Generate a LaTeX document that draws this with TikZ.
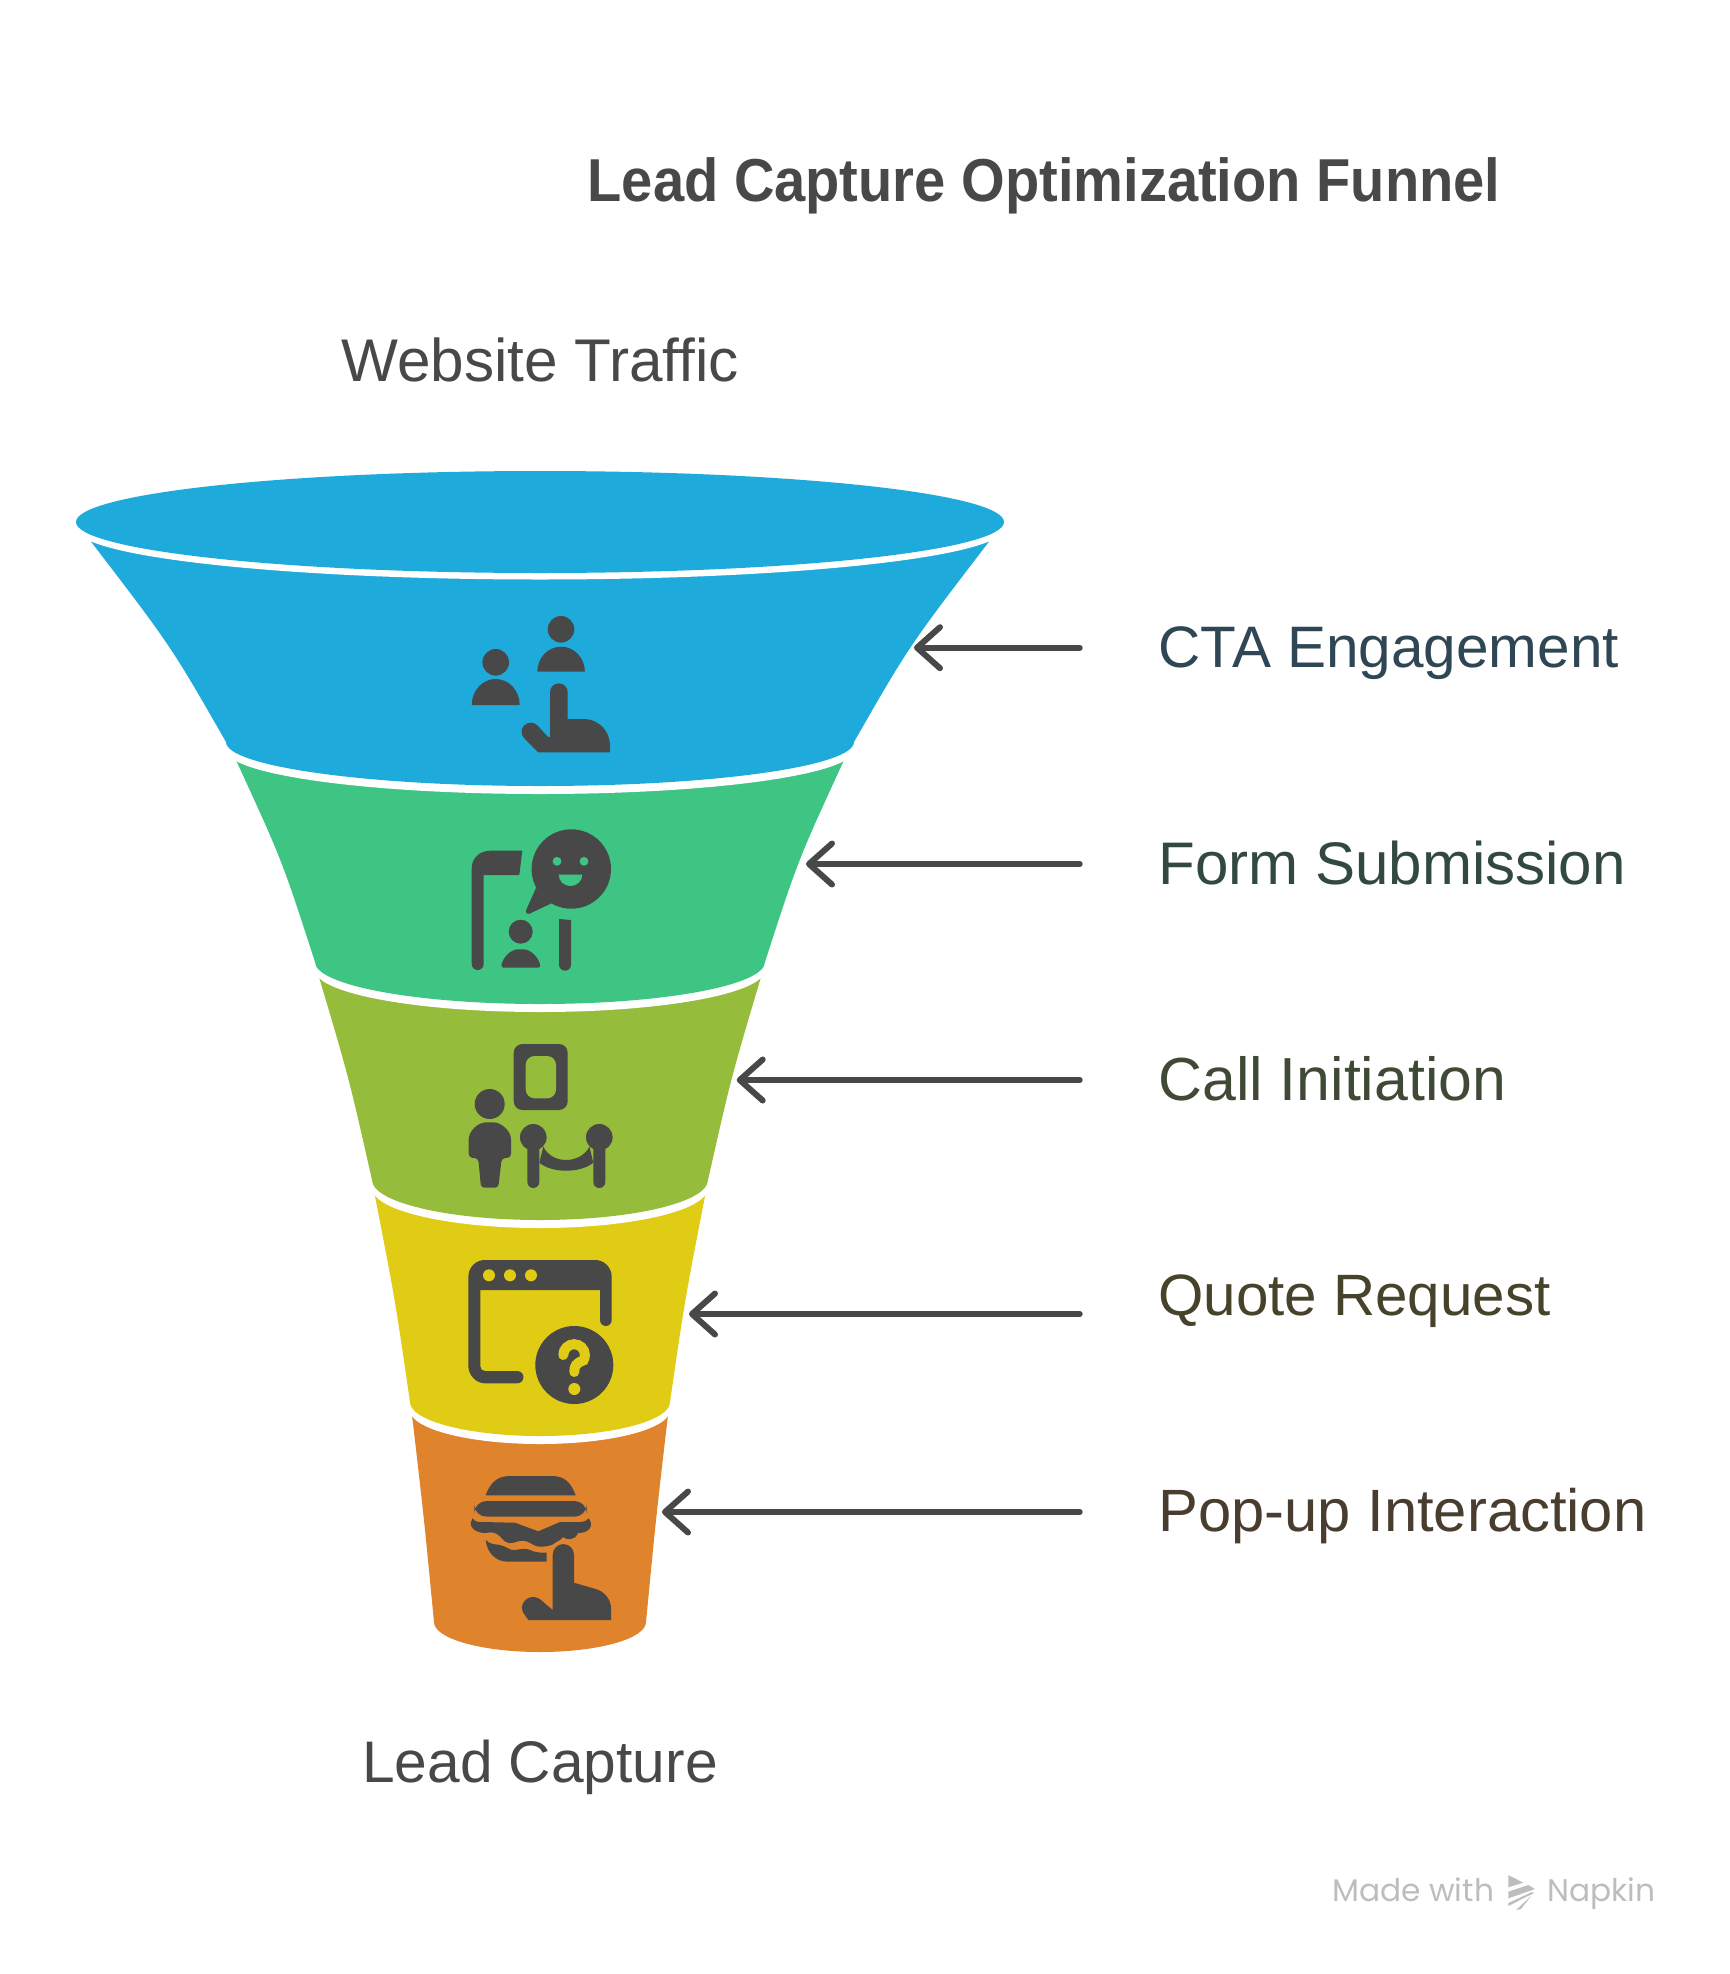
\documentclass[tikz,border=0pt]{standalone}
\usepackage{fontspec}
\setmainfont{Liberation Sans}
\newfontfamily\titlefont{Liberation Sans}[FakeStretch=0.925]
\newfontfamily\watermarkfont{Poppins}
\usetikzlibrary{arrows.meta}
\definecolor{bandblue}{HTML}{1FAADC}
\definecolor{bandgreen}{HTML}{3EC583}
\definecolor{bandolive}{HTML}{95BC3A}
\definecolor{bandyellow}{HTML}{E0CB15}
\definecolor{bandorange}{HTML}{DF832D}
\definecolor{inkgrey}{HTML}{484848}
\definecolor{watermarkgrey}{HTML}{BDBDBD}
\tikzset{
    iconfill/.style={fill=inkgrey},
    leadarrow/.style={inkgrey,line width=0.12cm,line cap=round,-{Straight Barb[length=0.46cm,width=0.82cm,round]}},
    sidelabel/.style={anchor=base west,font=\fontsize{#1}{36}\selectfont,inner sep=0pt},
    endlabel/.style={anchor=base,text=inkgrey,font=\fontsize{#1}{36}\selectfont,inner sep=0pt},
    watermark/.style={anchor=base west,inner sep=0pt,text=watermarkgrey,font=\watermarkfont\fontsize{17.8}{22}\selectfont}
}
\newcommand{\funnelband}[8]{
    \fill[white] (540-#6,-#7-8) arc[start angle=180,end angle=360,x radius=#6,y radius=#8] -- cycle;
    \fill[#1] (540-#2,-#3) .. controls (540-#4,-#5) .. (540-#6,-#7)
        arc[start angle=180,end angle=360,x radius=#6,y radius=#8]
        .. controls (540+#4,-#5) .. (540+#2,-#3) -- cycle;
}
\begin{document}
\begin{tikzpicture}[x=0.02cm,y=0.02cm]
    \useasboundingbox (0,0) rectangle (1729,-1974);
    \funnelband{bandorange}{128}{1415}{116}{1518}{106}{1622}{30}
    \funnelband{bandyellow}{165}{1196}{145}{1299}{130}{1402}{34}
    \funnelband{bandolive}{221}{977}{191}{1078}{168}{1180}{40}
    \funnelband{bandgreen}{305}{758}{258}{860}{225}{962}{42}
    \funnelband{bandblue}{451}{539}{369}{646}{314}{742}{44}
    \fill[white] (76,-528.5) arc[start angle=180,end angle=360,x radius=464,y radius=51] -- cycle;
    \fill[bandblue] (540,-522) ellipse[x radius=464,y radius=51];

    \fill[iconfill] (495.7,-662.3) circle[radius=13.3];
    \fill[iconfill] (471.7,-705) arc[start angle=180,end angle=0,x radius=24,y radius=26] -- cycle;
    \fill[iconfill] (561,-629.3) circle[radius=13.3];
    \fill[iconfill] (537.3,-671.7) arc[start angle=180,end angle=0,x radius=23.8,y radius=25] -- cycle;
    \fill[iconfill] (550,-737) -- (550,-692.2) arc[start angle=180,end angle=0,radius=8.85] -- (567.7,-719) -- (583,-719)
        .. controls (600,-719) and (610,-732) .. (610,-746) -- (610,-752.3) -- (538.3,-752.3) -- (525,-739)
        .. controls (515,-729) and (529,-717) .. (537.5,-725.5) -- (548.3,-737.3) -- cycle;

    \fill[iconfill] (471.7,-964) -- (471.7,-868) .. controls (471.7,-858) and (480,-850.7) .. (490,-850.7) -- (522.3,-850.7)
        -- (519.3,-875) -- (483.7,-875) -- (483.7,-964) arc[start angle=0,end angle=-180,radius=6] -- cycle;
    \fill[iconfill] (571.3,-869) circle[radius=39.7];
    \fill[iconfill] (536,-888) -- (526.2,-910) .. controls (525.5,-913) and (527,-914.5) .. (530,-913.5) -- (552,-903) -- cycle;
    \fill[bandgreen] (557,-861.3) circle[radius=4.4];
    \fill[bandgreen] (584,-861.3) circle[radius=4.4];
    \fill[bandgreen] (558.7,-874.7) arc[start angle=180,end angle=360,x radius=11.8,y radius=11.3] -- cycle;
    \fill[iconfill] (520.7,-931.7) circle[radius=12];
    \fill[iconfill,rounded corners=1.5] (501,-967.7) .. controls (503,-957) and (511,-949.3) .. (520.7,-949.3)
        .. controls (530.5,-949.3) and (538.5,-957) .. (540.7,-967.7) -- cycle;
    \fill[iconfill] (559,-964.7) -- (559,-919) -- (571,-920) -- (571,-964.7) arc[start angle=0,end angle=-180,radius=6] -- cycle;

    \fill[iconfill,rounded corners=5] (513.7,-1044) rectangle (567.7,-1110);
    \fill[bandolive,rounded corners=5] (525.7,-1056) rectangle (556,-1098.3);
    \fill[iconfill] (489.7,-1104) circle[radius=15];
    \fill[iconfill,rounded corners=2] (468.7,-1157.5) -- (468.7,-1143) .. controls (468.7,-1131) and (478,-1122.3) .. (489.8,-1122.3)
        .. controls (501.5,-1122.3) and (511,-1131) .. (511,-1143) -- (511,-1157.5) -- (501.7,-1158.3) -- (498.3,-1187.7)
        -- (481,-1187.7) -- (478.3,-1158.3) -- cycle;
    \fill[iconfill] (533.3,-1137.3) circle[radius=13.3];
    \fill[iconfill] (599.3,-1137.3) circle[radius=13.3];
    \fill[iconfill] (527.3,-1140) -- (527.3,-1182) arc[start angle=180,end angle=360,radius=6] -- (539.3,-1140) -- cycle;
    \fill[iconfill] (593.3,-1140) -- (593.3,-1182) arc[start angle=180,end angle=360,radius=6] -- (605.3,-1140) -- cycle;
    \fill[iconfill] (543.3,-1146.7) .. controls (552,-1164.4) and (580,-1164.4) .. (589.5,-1146.7) -- (593.3,-1162.7)
        .. controls (580,-1173.4) and (552,-1173.4) .. (539.3,-1162.7) -- cycle;

    \fill[iconfill] (468.3,-1360) -- (468.3,-1277) .. controls (468.3,-1267) and (476,-1260) .. (485,-1260) -- (595,-1260)
        .. controls (604,-1260) and (611.7,-1267) .. (611.7,-1277) -- (611.7,-1320) arc[start angle=0,end angle=-180,x radius=5.85,y radius=6]
        -- (600,-1290) -- (480.3,-1290) -- (480.3,-1366) .. controls (480.3,-1369) and (482,-1371) .. (485,-1371) -- (517.3,-1371)
        arc[start angle=90,end angle=-90,radius=6.15] -- (485,-1383.3) .. controls (476,-1383.3) and (468.3,-1375) .. (468.3,-1366) -- cycle;
    \fill[bandyellow] (489,-1275.3) circle[radius=6];
    \fill[bandyellow] (510,-1275.3) circle[radius=6];
    \fill[bandyellow] (531,-1275.3) circle[radius=6];
    \fill[iconfill] (574.3,-1365) circle[radius=39];
    \draw[bandyellow,line width=0.2cm,line cap=round] (563.3,-1355) arc[start angle=180,end angle=-30,radius=10.8] .. controls (576,-1363) and (574.3,-1366) .. (574.3,-1372);
    \fill[bandyellow] (574.3,-1389) circle[radius=6];

    \fill[iconfill] (485.7,-1495.3) .. controls (490,-1483) and (497,-1476) .. (510,-1476) -- (552,-1476)
        .. controls (565,-1476) and (571,-1483) .. (575.7,-1495.3) -- cycle;
    \fill[iconfill,rounded corners=7] (474.3,-1501) rectangle (586.7,-1516.7);
    \fill[iconfill] (472.7,-1518.3) .. controls (475,-1522) and (478,-1522) .. (482,-1522) -- (515,-1522.7) -- (538.3,-1531.3) -- (560,-1522)
        -- (580,-1522) .. controls (585,-1522) and (587,-1520) .. (588.7,-1518.3) .. controls (594,-1525) and (590,-1533) .. (578,-1533)
        .. controls (575,-1541) and (566,-1540) .. (563,-1537) .. controls (558,-1543) and (550,-1547) .. (540,-1546.7)
        .. controls (532,-1546) and (530,-1541) .. (523.3,-1540.7) .. controls (518,-1540) and (514,-1544) .. (509,-1543)
        .. controls (503,-1542) and (501,-1536) .. (497,-1534) .. controls (492,-1531) and (488,-1533) .. (485,-1533)
        .. controls (478,-1533) and (466,-1528) .. (472.7,-1518.3) -- cycle;
    \fill[iconfill] (485.7,-1540) .. controls (490,-1545) and (496,-1544) .. (500,-1545) .. controls (506,-1546) and (510,-1551) .. (515,-1550)
        .. controls (521,-1549) and (526,-1548) .. (530,-1550) .. controls (534,-1552) and (540,-1553) .. (546.7,-1552.7) -- (546.7,-1561.7)
        -- (508,-1561.7) .. controls (495,-1561.7) and (487,-1552) .. (485.7,-1540) -- cycle;
    \fill[bandorange] (549,-1554) -- (549,-1554.7) arc[start angle=180,end angle=0,radius=14.4] -- (577.8,-1590) -- (549,-1590) -- cycle;
    \fill[iconfill] (552.7,-1610) -- (552.7,-1554.7) arc[start angle=180,end angle=0,radius=10.65] -- (574,-1582.7) -- (596.7,-1589.3)
        .. controls (605,-1592) and (611,-1600) .. (611,-1608) -- (611,-1620) -- (528.3,-1620) -- (523.5,-1613)
        .. controls (519,-1606) and (525,-1597) .. (533,-1597) .. controls (537,-1597) and (540,-1599) .. (541,-1600) -- cycle;

    \coordinate (ctatail) at (1079.7,-647.7);
    \coordinate (ctatip) at (914,-647.7);
    \coordinate (formtail) at (1079.7,-864);
    \coordinate (formtip) at (806,-864);
    \coordinate (calltail) at (1079.7,-1080);
    \coordinate (calltip) at (736.7,-1080);
    \coordinate (quotetail) at (1079.7,-1314);
    \coordinate (quotetip) at (689,-1314);
    \coordinate (popuptail) at (1079.7,-1512);
    \coordinate (popuptip) at (662,-1512);
    \draw[leadarrow] (ctatail) -- (ctatip);
    \draw[leadarrow] (formtail) -- (formtip);
    \draw[leadarrow] (calltail) -- (calltip);
    \draw[leadarrow] (quotetail) -- (quotetip);
    \draw[leadarrow] (popuptail) -- (popuptip);

    \node[anchor=base,text=inkgrey,inner sep=0pt,font=\titlefont\fontsize{34.5}{38}\selectfont\bfseries] (title) at (1044,-201) {Lead Capture Optimization Funnel};
    \node[endlabel=34.3] (traffic) at (540,-381) {Website Traffic};
    \node[endlabel=33.4] (capture) at (540,-1782) {Lead Capture};
    \node[sidelabel=33.3,text={rgb,255:red,47;green,71;blue,84}] (cta) at (1158,-667) {CTA Engagement};
    \node[sidelabel=34.2,text={rgb,255:red,50;green,73;blue,63}] (form) at (1158,-884) {Form Submission};
    \node[sidelabel=34.6,text={rgb,255:red,63;green,73;blue,53}] (call) at (1158,-1100) {Call Initiation};
    \node[sidelabel=33.2,text={rgb,255:red,70;green,67;blue,42}] (quote) at (1158,-1315) {Quote Request};
    \node[sidelabel=34,text={rgb,255:red,73;green,61;blue,48}] (popup) at (1158,-1531) {Pop-up Interaction};

    \node[watermark] (made) at (1332,-1901) {Made with};
    \node[watermark] (napkin) at (1547,-1901) {Napkin};
    \fill[watermarkgrey] (1508.3,-1875) -- (1523.3,-1882.7) -- (1508.3,-1887.3) -- cycle;
    \fill[watermarkgrey] (1508.3,-1891.7) -- (1528.3,-1885) -- (1535,-1889) -- (1508.3,-1898.3) -- cycle;
    \fill[watermarkgrey] (1508.3,-1903) -- (1532,-1892) -- (1534,-1893) -- (1508.3,-1906) -- cycle;
    \fill[watermarkgrey] (1516,-1910) -- (1531,-1896) -- (1521,-1909) -- cycle;
\end{tikzpicture}
\end{document}
